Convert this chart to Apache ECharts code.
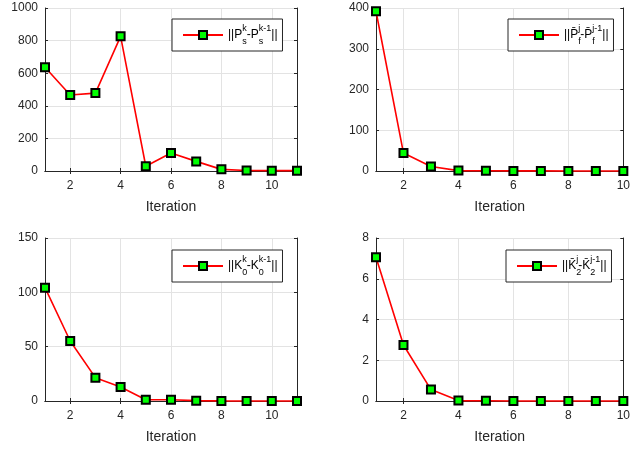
<!DOCTYPE html>
<html><head><meta charset="utf-8">
<script src="https://cdn.jsdelivr.net/npm/echarts@6/dist/echarts.min.js"></script>
<style>html,body{margin:0;padding:0;background:#fff}#c{width:633px;height:450px}</style>
</head><body><div id="c"></div>
<script>
// ---- data ----
const iterA = ['1','2','3','4','5','6','7','8','9','10','11'];
const iterB = ['1','2','3','4','5','6','7','8','9','10'];
const psDiff = [636, 466, 478, 826, 29, 110, 59, 10, 3, 2, 2];
const pfDiff = [392, 44, 11, 1, 0.5, 0.3, 0.2, 0.1, 0.1, 0.1];
const k0Diff = [104.3, 55.2, 21.5, 12.9, 1.2, 1.2, 0.3, 0.1, 0.05, 0.02, 0.01];
const k2Diff = [7.05, 2.75, 0.56, 0.02, 0.01, 0, 0, 0, 0, 0];
const yRanges = [[0, 1000, 200], [0, 400, 100], [0, 150, 50], [0, 8, 2]];
const xLabel = 'Iteration';
const seriesNames = ['Ps', 'Pf', 'K0', 'K2'];
const legendTexts = {
  Ps: '{n|||P}{sb|s}{sp|k}{n|-P}{sb|s}{sp|k-1}{n|||}',
  Pf: '{n|||P\u0304}{sb|f}{sp|j}{n|-P\u0304}{sb|f}{sp|j-1}{n|||}',
  K0: '{n|||K}{sb|0}{sp|k}{n|-K}{sb|0}{sp|k-1}{n|||}',
  K2: '{n|||K\u0304}{sb|2}{sp|j}{n|-K\u0304}{sb|2}{sp|j-1}{n|||}'
};

// ---- layout ----
const FONT = 'Liberation Sans';
const AX = '#262626';
const GRIDC = '#e3e3e3';
const grids = [
  {left: 45, top: 8, width: 252, height: 163},
  {left: 376, top: 8, width: 252, height: 163},
  {left: 45, top: 238, width: 252, height: 163},
  {left: 376, top: 238, width: 252, height: 163}
];
const cats = [iterA, iterB, iterA, iterB];
const vals = [psDiff, pfDiff, k0Diff, k2Diff];
const legendPos = [[172, 19], [508, 19], [172, 250], [506, 250]];
const even = (i, v) => (+v) % 2 === 0;

const xAxis = [], yAxis = [], series = [], legend = [];
for (let g = 0; g < 4; g++) {
  xAxis.push({
    gridIndex: g, type: 'category', data: cats[g], boundaryGap: false,
    name: xLabel, nameLocation: 'middle', nameGap: 29,
    nameTextStyle: {fontFamily: FONT, fontSize: 14, color: AX},
    axisLine: {show: true, lineStyle: {color: AX, width: 1}},
    axisTick: {show: true, inside: true, length: 3, interval: even, lineStyle: {color: AX}},
    axisLabel: {interval: even, fontFamily: FONT, fontSize: 12, color: AX, margin: 9},
    splitLine: {show: true, interval: even, lineStyle: {color: GRIDC, width: 1}}
  });
  xAxis.push({
    gridIndex: g, type: 'category', data: cats[g], boundaryGap: false, position: 'top',
    axisLine: {show: true, lineStyle: {color: AX, width: 1}},
    axisTick: {show: true, inside: true, length: 3, interval: even, lineStyle: {color: AX}},
    axisLabel: {show: false}, splitLine: {show: false}
  });
  const [mn, mx, iv] = yRanges[g];
  yAxis.push({
    gridIndex: g, type: 'value', min: mn, max: mx, interval: iv,
    axisLine: {show: true, lineStyle: {color: AX, width: 1}},
    axisTick: {show: true, inside: true, length: 3, lineStyle: {color: AX}},
    axisLabel: {fontFamily: FONT, fontSize: 12, color: AX, margin: 7, formatter: (v) => String(v)},
    splitLine: {show: true, lineStyle: {color: GRIDC, width: 1}}
  });
  yAxis.push({
    gridIndex: g, type: 'value', min: mn, max: mx, interval: iv, position: 'right',
    axisLine: {show: true, lineStyle: {color: AX, width: 1}},
    axisTick: {show: true, inside: true, length: 3, lineStyle: {color: AX}},
    axisLabel: {show: false}, splitLine: {show: false}
  });
  series.push({
    name: seriesNames[g], type: 'line', xAxisIndex: g * 2, yAxisIndex: g * 2,
    data: vals[g], clip: false, symbol: 'rect', symbolSize: 8,
    lineStyle: {color: '#ff0000', width: 1.6},
    itemStyle: {color: '#00ff00', borderColor: '#000', borderWidth: 2},
    emphasis: {disabled: true}, animation: false, z: 3
  });
  legend.push({
    data: [seriesNames[g]], left: legendPos[g][0], top: legendPos[g][1],
    orient: 'vertical', selectedMode: false,
    padding: [5, 5, 5, 10], itemWidth: 40, itemHeight: 10,
    backgroundColor: '#fff', borderColor: AX, borderWidth: 1, borderRadius: 0,
    formatter: (name) => legendTexts[name],
    textStyle: {
      rich: {
        n: {fontFamily: FONT, fontSize: 12, color: '#000', lineHeight: 22, verticalAlign: 'middle'},
        sb: {fontFamily: FONT, fontSize: 9, color: '#000', lineHeight: 10, verticalAlign: 'bottom', width: 0.01},
        sp: {fontFamily: FONT, fontSize: 9, color: '#000', lineHeight: 10, verticalAlign: 'top'}
      }
    }
  });
}

const chart = echarts.init(document.getElementById('c'), null, {renderer: 'canvas'});
chart.setOption({
  animation: false, backgroundColor: '#fff',
  grid: grids, xAxis, yAxis, series, legend
});
</script></body></html>
